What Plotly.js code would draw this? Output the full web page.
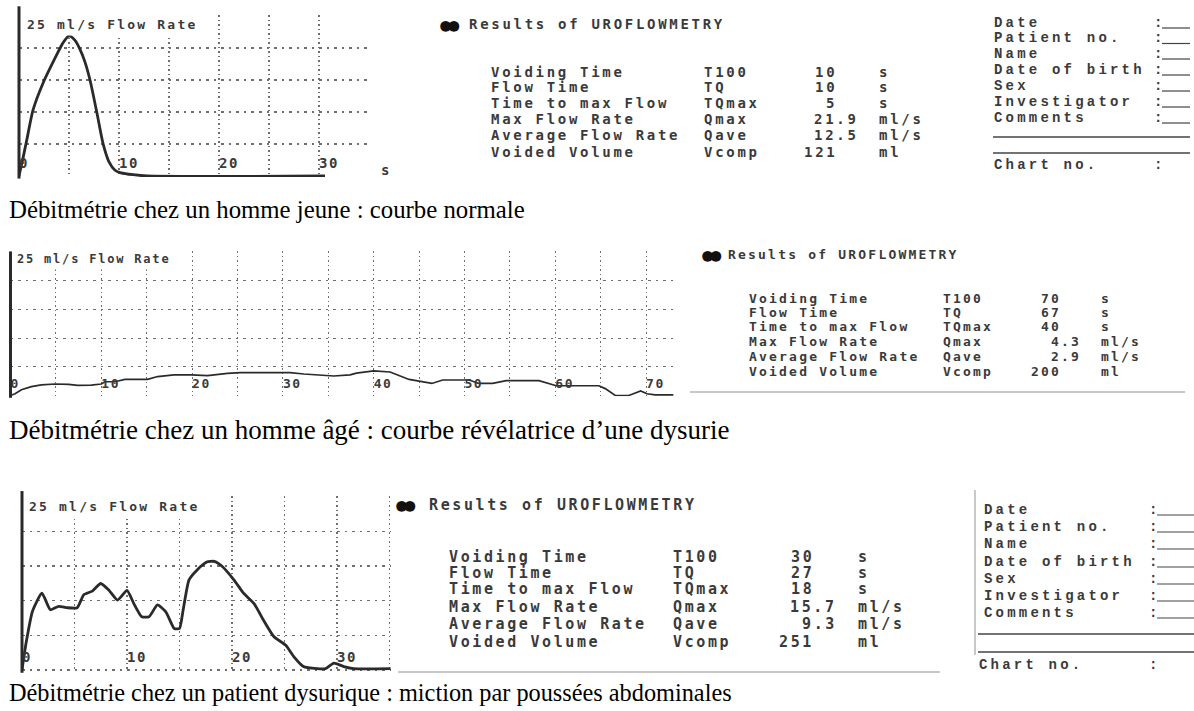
<!DOCTYPE html>
<html><head><meta charset="utf-8">
<script src="https://cdn.plot.ly/plotly-3.0.1.min.js"></script>
<style>
html,body{margin:0;padding:0;background:#fff;}
text.annotation-text[style*="Sans Mono"][style*="font-size: 12px"]{letter-spacing:1.8px;}
text.annotation-text[style*="Sans Mono"][style*="font-size: 13px"]{letter-spacing:2.2px;}
text.annotation-text[style*="Sans Mono"][style*="font-size: 14px"]{letter-spacing:2.7px;}
text.annotation-text[style*="Sans Mono"][style*="font-size: 15px"]{letter-spacing:2.6px;}
text.annotation-text[style*="Liberation Mono"]{letter-spacing:3.2px;}
text.annotation-text[style*="Lato"]{letter-spacing:-5px;}
.xtick text,.x2tick text,.x3tick text{letter-spacing:1.5px;}
</style></head>
<body><div id="chart" style="width:1194px;height:711px;"></div>
<script>
// ---------- data ----------
const t1 = [0, 0.4, 0.8, 1.4, 2.4, 3.6, 4.4, 5.0, 5.6, 6.1, 6.6, 7.1, 7.8, 8.4, 9.0, 9.6, 10.2, 11.4, 12.8, 30.6];
const q1 = [0, 2.8, 5.8, 10.3, 14.5, 18.4, 20.8, 21.9, 21.2, 19.8, 17.8, 15.0, 9.8, 5.1, 2.2, 0.9, 0.5, 0.2, 0, 0];

const t2 = [0, 0.5, 1.2, 2.3, 3.4, 4.9, 6.4, 7.4, 8.9, 10.0, 10.4, 11.5, 12.6, 13.7, 15.1, 16.2, 18.0, 19.9, 21.7, 23.9,
            25.3, 28.3, 30.8, 32.3, 33.8, 35.6, 37.4, 38.1, 40.0, 41.8, 43.9, 46.4, 47.6, 50.5, 51.6, 53.1, 54.6, 58.2,
            60.1, 61.9, 64.8, 65.5, 66.6, 68.1, 69.4, 70.1, 71.0, 74.0];
const q2 = [0, 0.3, 1.0, 1.55, 1.85, 2.0, 1.95, 1.75, 1.8, 2.0, 2.4, 2.4, 2.8, 2.8, 2.8, 3.3, 3.6, 3.6, 3.45, 3.85,
            4.0, 4.0, 4.0, 3.75, 3.6, 3.4, 3.6, 3.9, 4.3, 4.1, 2.8, 2.1, 2.7, 2.7, 2.1, 2.1, 2.6, 2.6,
            1.7, 1.7, 1.7, 1.2, 0, 0, 0.8, 0.3, 0.1, 0.1];

const t3 = [0, 0.4, 1.0, 1.9, 2.7, 3.5, 4.3, 5.25, 5.9, 6.7, 7.5, 8.3, 9.1, 10.0, 10.65, 11.4, 12.1, 12.9, 13.7, 14.5,
            15.0, 15.35, 15.9, 16.7, 17.6, 18.3, 19.05, 20.2, 21.1, 22.1, 23.0, 24.0, 25.1, 25.9, 26.8, 28.1, 28.9,
            29.7, 30.65, 31.6, 35.2];
const q3 = [0, 4.0, 8.5, 11.1, 8.7, 9.2, 9.0, 9.0, 10.9, 11.4, 12.5, 11.5, 10.1, 11.5, 9.6, 7.7, 7.7, 9.4, 8.4, 6.0,
            6.0, 8.7, 13.0, 14.5, 15.6, 15.7, 15.0, 13.0, 11.1, 9.6, 7.2, 4.8, 3.6, 1.9, 0.5, 0.2, 0.2,
            1.0, 0.5, 0.2, 0.2];

const tickVals1 = [0, 5, 10, 15, 20, 25, 30, 35];
const tickVals2 = [0, 5, 10, 15, 20, 25, 30, 35, 40, 45, 50, 55, 60, 65, 70];
const tickVals3 = [0, 5, 10, 15, 20, 25, 30, 35];
const yTickVals = [0, 5, 10, 15, 20, 25];
const axisLabel = '25 ml/s Flow Rate';
const timeUnit = 's';

const tableTitle = 'Results of UROFLOWMETRY';
const tableSymbol = '●●';
const rowLabels = ['Voiding Time', 'Flow Time', 'Time to max Flow', 'Max Flow Rate', 'Average Flow Rate', 'Voided Volume'];
const rowSymbols = ['T100', 'TQ', 'TQmax', 'Qmax', 'Qave', 'Vcomp'];
const rowUnits = ['s', 's', 's', 'ml/s', 'ml/s', 'ml'];
const values1 = [10, 10, 5, 21.9, 12.5, 121];
const values2 = [70, 67, 40, 4.3, 2.9, 200];
const values3 = [30, 27, 18, 15.7, 9.3, 251];

const infoFields = ['Date', 'Patient no.', 'Name', 'Date of birth', 'Sex', 'Investigator', 'Comments'];
const chartField = 'Chart no.';

const captions = [
  'Débitmétrie chez un homme jeune : courbe normale',
  'Débitmétrie chez un homme âgé : courbe révélatrice d’une dysurie',
  'Débitmétrie chez un patient dysurique : miction par poussées abdominales'
];

// ---------- layout helpers ----------
const W = 1194, H = 711;
const px = x => x / W, py = y => 1 - y / H;
const YMIN = -0.15, YMAX = 25.1;
const INK = '#2a2a2a', TXT = '#3a3a3a', GRID = '#6f6f6f';

const series = [
  {t: t1, q: q1, ticks: tickVals1},
  {t: t2, q: q2, ticks: tickVals2},
  {t: t3, q: q3, ticks: tickVals3}
];
const geo = [
  {x0: 19, sx: 10, xmax: 35.1, y0: 176, sy: 6.4, axTop: 1.056, lw: 2.8, shape: 'spline', sm: 0.7, lab: {x: 23, y: 25, size: 13}, gw: 1.4, tf: 14},
  {x0: 10.5, sx: 9.08, xmax: 73, y0: 395.5, sy: 5.74, axTop: 1.0, lw: 1.7, shape: 'linear', sm: 0, lab: {x: 13, y: 259, size: 12}, gw: 1.1, tf: 13},
  {x0: 22, sx: 10.5, xmax: 35.1, y0: 670, sy: 6.92, axTop: 1.03, lw: 2.8, shape: 'spline', sm: 0.5, lab: {x: 25, y: 507, size: 13}, gw: 1.4, tf: 14}
];

const layout = {
  width: W, height: H, margin: {l: 0, r: 0, t: 0, b: 0},
  paper_bgcolor: '#fff', plot_bgcolor: 'rgba(0,0,0,0)',
  showlegend: false, hovermode: false,
  annotations: [], shapes: []
};
const traces = [];

series.forEach((s, i) => {
  const g = geo[i];
  const sfx = i === 0 ? '' : String(i + 1);
  const xd = [px(g.x0), px(g.x0 + g.xmax * g.sx)];
  const yd = [py(g.y0 - YMIN * g.sy), py(g.y0 - YMAX * g.sy)];
  layout['xaxis' + sfx] = {
    domain: xd, range: [0, g.xmax], anchor: 'y' + sfx, fixedrange: true,
    tickmode: 'array', tickvals: s.ticks, ticktext: s.ticks.map(v => v % 10 === 0 ? String(v) : ''),
    ticks: '', showline: false, zeroline: false,
    ticklabelposition: 'inside right', ticklabeloverflow: 'allow',
    tickfont: {family: 'DejaVu Sans Mono', size: g.tf, color: TXT, weight: 'bold'},
    showgrid: true, gridcolor: GRID, gridwidth: g.gw, griddash: '1.5px,3px'
  };
  layout['yaxis' + sfx] = {
    domain: yd, range: [YMIN, YMAX], anchor: 'x' + sfx, fixedrange: true,
    tickmode: 'array', tickvals: yTickVals, showticklabels: false, ticks: '',
    showline: false, zeroline: false,
    showgrid: true, gridcolor: GRID, gridwidth: g.gw, griddash: '2.5px,5px'
  };
  traces.push({
    type: 'scatter', mode: 'lines', x: s.t, y: s.q, xaxis: 'x' + sfx, yaxis: 'y' + sfx,
    line: {color: INK, width: g.lw, shape: g.shape, smoothing: g.sm}, hoverinfo: 'skip'
  });
  // thick flow axis
  layout.shapes.push({type: 'line', xref: 'x' + sfx + ' domain', yref: 'y' + sfx + ' domain',
    x0: 0, x1: 0, y0: -0.01, y1: g.axTop, line: {color: INK, width: 3}});
  // flow-rate label
  layout.annotations.push({text: axisLabel, xref: 'paper', yref: 'paper', x: px(g.lab.x), y: py(g.lab.y),
    xanchor: 'left', yanchor: 'middle', showarrow: false, bgcolor: '#fff', borderpad: 3,
    font: {family: 'DejaVu Sans Mono', size: g.lab.size, color: TXT, weight: 'bold'}});
});

// time unit for first chart
layout.annotations.push({text: timeUnit, xref: 'paper', yref: 'paper', x: px(379), y: py(170),
  xanchor: 'left', yanchor: 'middle', showarrow: false, font: {family: 'DejaVu Sans Mono', size: 14, color: TXT, weight: 'bold'}});

function txt(text, x, y, size, extra) {
  return Object.assign({text, xref: 'paper', yref: 'paper', x: px(x), y: py(y), xanchor: 'left', yanchor: 'middle',
    showarrow: false, borderpad: 0, font: {family: 'DejaVu Sans Mono', size, color: TXT, weight: 'bold'}}, extra || {});
}

// result tables
const tables = [
  {vals: values1, symX: 449, titleX: 468, titleY: 24, labelX: 490, colX: 703, intEnd: 838, unitX: 878,
   rowsY: [71.7, 87.3, 103.3, 119.3, 135, 151.7], size: 14, cw: 11.1},
  {vals: values2, symX: 711, titleX: 727, titleY: 254, labelX: 748, colX: 942, intEnd: 1062, unitX: 1100,
   rowsY: [298, 312, 326, 341, 356, 371], size: 13, cw: 10},
  {vals: values3, symX: 405, titleX: 428, titleY: 505, labelX: 448, colX: 672, intEnd: 815, unitX: 857,
   rowsY: [557, 573, 589, 607, 624, 642], size: 15, cw: 11.5}
];
tables.forEach(tb => {
  layout.annotations.push(txt(tableSymbol, tb.symX, tb.titleY, 22, {xanchor: 'center',
    font: {family: 'Lato', size: 22, color: '#111'}}));
  layout.annotations.push(txt(tableTitle, tb.titleX, tb.titleY, tb.size));
  rowLabels.forEach((lab, r) => {
    const y = tb.rowsY[r];
    const v = tb.vals[r];
    const isInt = Number.isInteger(v);
    layout.annotations.push(txt(lab, tb.labelX, y, tb.size));
    layout.annotations.push(txt(rowSymbols[r], tb.colX, y, tb.size));
    layout.annotations.push(txt(isInt ? String(v) : v.toFixed(1), tb.intEnd + (isInt ? 0 : 2 * tb.cw), y, tb.size, {xanchor: 'right'}));
    layout.annotations.push(txt(rowUnits[r], tb.unitX, y, tb.size));
  });
});

// patient info blocks
const infos = [
  {labelX: 993, rowsY: [23, 38.5, 54, 70, 86, 102, 118], colonX: 1153, lineEnd: 1190, sepY: [137, 153], sepX0: 993, chartX: 993, chartY: 165},
  {labelX: 983, rowsY: [510, 527, 544, 562, 579, 596, 613], colonX: 1148, lineEnd: 1194, sepY: [634, 652], sepX0: 978, chartX: 978, chartY: 665}
];
const infoFont = {family: 'Liberation Mono', size: 14, color: TXT, weight: 'bold'};
infos.forEach(b => {
  infoFields.forEach((f, r) => {
    const y = b.rowsY[r];
    layout.annotations.push(txt(f, b.labelX, y, 14, {font: infoFont}));
    layout.annotations.push(txt(':', b.colonX, y, 14, {font: infoFont}));
    layout.shapes.push({type: 'line', xref: 'paper', yref: 'paper', x0: px(b.colonX + 9), x1: px(b.lineEnd),
      y0: py(y + 5), y1: py(y + 5), line: {color: '#444', width: 1.2}});
  });
  b.sepY.forEach(y => layout.shapes.push({type: 'line', xref: 'paper', yref: 'paper', x0: px(b.sepX0), x1: px(b.lineEnd),
    y0: py(y), y1: py(y), line: {color: '#444', width: 1.4}}));
  layout.annotations.push(txt(chartField, b.chartX, b.chartY, 14, {font: infoFont}));
  layout.annotations.push(txt(':', b.colonX, b.chartY, 14, {font: infoFont}));
});

// faint scan frame lines
[[398, 672, 940, 672], [975, 490, 975, 655], [690, 392, 1185, 392]].forEach(l =>
  layout.shapes.push({type: 'line', xref: 'paper', yref: 'paper', x0: px(l[0]), y0: py(l[1]), x1: px(l[2]), y1: py(l[3]),
    line: {color: '#c8c8c8', width: 2}}));

// captions
const capY = [209, 430, 692];
const capSize = [24.8, 27, 24.3];
captions.forEach((c, i) => layout.annotations.push({text: c, xref: 'paper', yref: 'paper', x: px(8), y: py(capY[i]),
  xanchor: 'left', yanchor: 'middle', showarrow: false, borderpad: 0,
  font: {family: 'Liberation Serif', size: capSize[i], color: '#000'}}));

Plotly.newPlot('chart', traces, layout, {displayModeBar: false, staticPlot: true});
</script></body></html>
